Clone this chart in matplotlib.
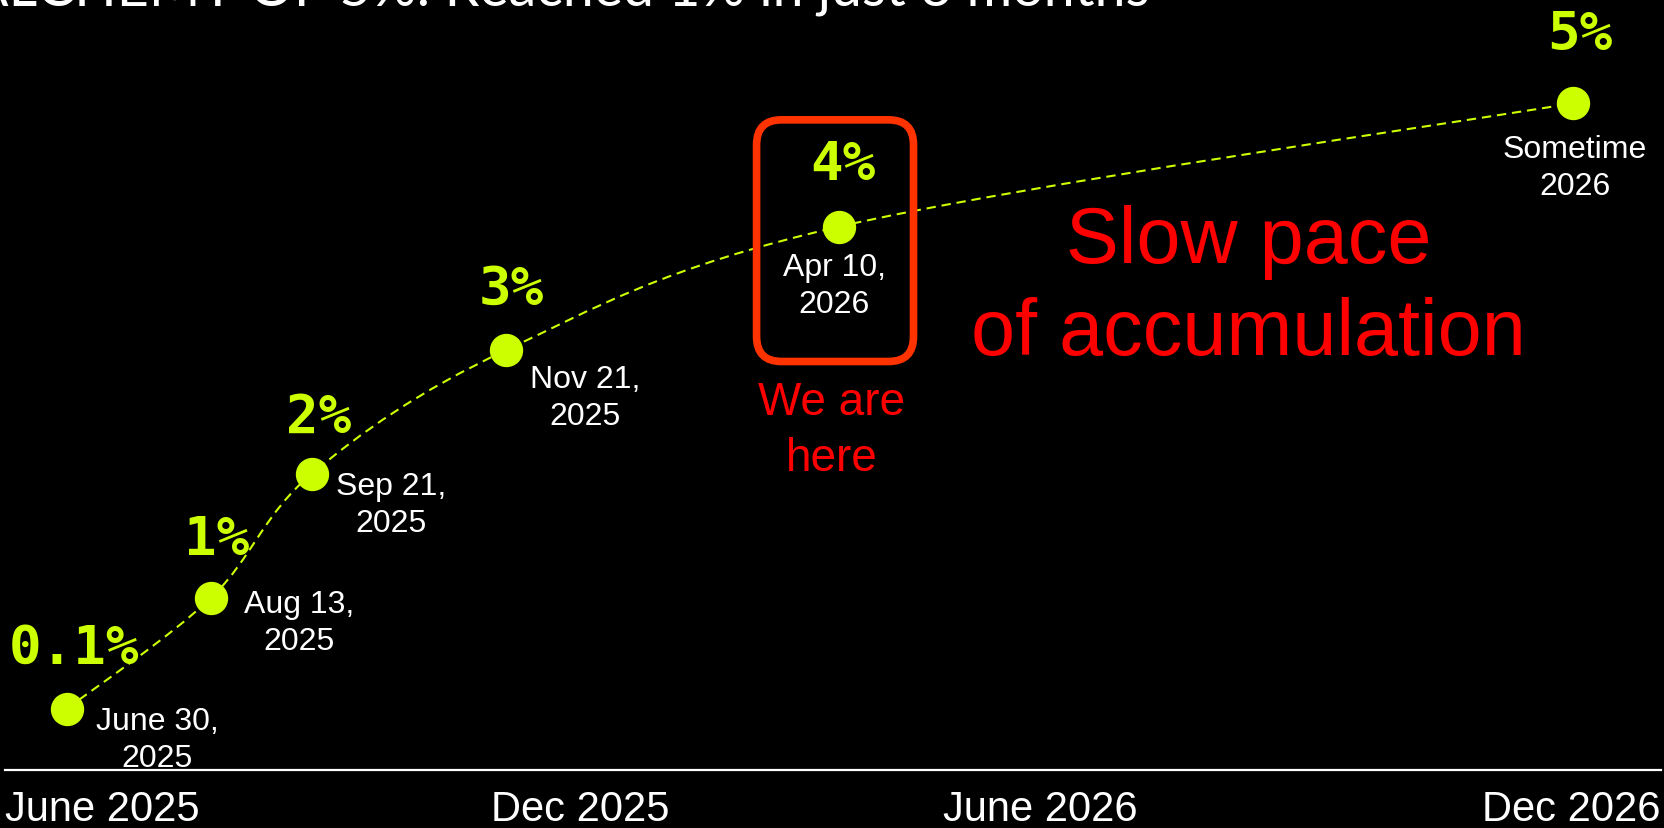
import numpy as np
import matplotlib
matplotlib.use("Agg")
from matplotlib import pyplot as plt
from matplotlib import patches, transforms
from matplotlib.path import Path

# milestones (x = position along the drawn timeline, months after June 2025)
milestone_month = [0.67, 2.24, 3.33, 5.44, 9.06, 17.05]
milestone_pct = [0.1, 1, 2, 3, 4, 5]
pct_labels = ["0.1%", "1%", "2%", "3%", "4%", "5%"]
date_labels = ["June 30,\n2025", "Aug 13,\n2025", "Sep 21,\n2025",
               "Nov 21,\n2025", "Apr 10,\n2026", "Sometime\n2026"]
current_idx = 4

axis_ticks = [0, 6.25, 11.25, 18]
axis_labels = ["June 2025", "Dec 2025", "June 2026", "Dec 2026"]

title = "ALCHEMY OF 5%: Reached 1% in just 3 months"

LIME = "#ccff00"
RED = "#ff0000"
BOX = "#ff3300"

fig = plt.figure(figsize=(16.65, 8.29), dpi=100, facecolor="black")
ax = fig.add_axes([0.0032, 0.070, 0.9942, 0.930])
ax.set_facecolor("black")
ax.set_xlim(0, 18)
ax.set_ylim(-0.395, 5.843)

for s in ["top", "right", "left"]:
    ax.spines[s].set_visible(False)
ax.spines["bottom"].set_color("white")
ax.spines["bottom"].set_linewidth(1.6)
ax.set_yticks([])
ax.set_xticks(axis_ticks)
ax.set_xticklabels(axis_labels, family="Liberation Sans", fontsize=30, color="white")
ax.tick_params(axis="x", length=0, pad=14)
tl = ax.get_xticklabels()
tl[0].set_ha("left")
tl[-1].set_ha("right")

# smooth dashed connector (Catmull-Rom -> cubic bezier)
x = np.array(milestone_month, dtype=float)
y = np.array(milestone_pct, dtype=float)
pts = np.column_stack([x, y])
verts = [pts[0]]
codes = [Path.MOVETO]
for i in range(len(pts) - 1):
    p0 = pts[i - 1] if i > 0 else pts[i]
    p1, p2 = pts[i], pts[i + 1]
    p3 = pts[i + 2] if i + 2 < len(pts) else pts[i + 1]
    c1 = p1 + (p2 - p0) / 6
    c2 = p2 - (p3 - p1) / 6
    verts += [c1, c2, p2]
    codes += [Path.CURVE4] * 3
curve = patches.PathPatch(Path(verts, codes), fill=False, edgecolor=LIME,
                          lw=1.5, linestyle=(0, (4.5, 2.8)), zorder=2)
ax.add_patch(curve)

ax.plot(x, y, "o", color=LIME, markersize=23, zorder=3)

pct_offsets = [(5, 44), (4, 42), (5, 41), (4, 44), (3, 45), (5, 50)]
date_offsets = [(65, -22), (63, -18), (57, -22), (57, -34), (-3, -42), (1, -46)]
for xi, yi, pl, dl, po, do in zip(x, y, pct_labels, date_labels, pct_offsets, date_offsets):
    ax.annotate(pl, (xi, yi), xytext=po, textcoords="offset points",
                ha="center", va="center", fontsize=39, fontweight="bold",
                family="DejaVu Sans Mono", color=LIME)
    ax.annotate(dl, (xi, yi), xytext=do, textcoords="offset points",
                ha="center", va="center", multialignment="center",
                fontsize=23, family="Liberation Sans", color="white",
                linespacing=1.3)

# "we are here" box around the current milestone
xc, yc = x[current_idx], y[current_idx]
pt_trans = transforms.Affine2D().scale(fig.dpi / 72) + \
    transforms.ScaledTranslation(xc, yc, ax.transData)
box = patches.FancyBboxPatch((-59, -97), 113, 174,
                             boxstyle="round,pad=0,rounding_size=18",
                             transform=pt_trans, fill=False,
                             edgecolor=BOX, lw=5.5, zorder=4)
ax.add_patch(box)
ax.annotate("We are\nhere", (xc, yc), xytext=(-5, -146), textcoords="offset points",
            ha="center", va="center", multialignment="center",
            fontsize=33, family="Liberation Sans", color=RED, linespacing=1.35)

fig.text(0.750, 0.652, "Slow pace\nof accumulation", ha="center", va="center",
         fontsize=57, family="Liberation Sans", color=RED, linespacing=1.3)

fig.text(0.6905, 1 - 5 / 829, title, ha="right", va="baseline",
         fontsize=40, family="Lato", color="white")

fig.savefig("out.png", dpi=100, facecolor="black")
